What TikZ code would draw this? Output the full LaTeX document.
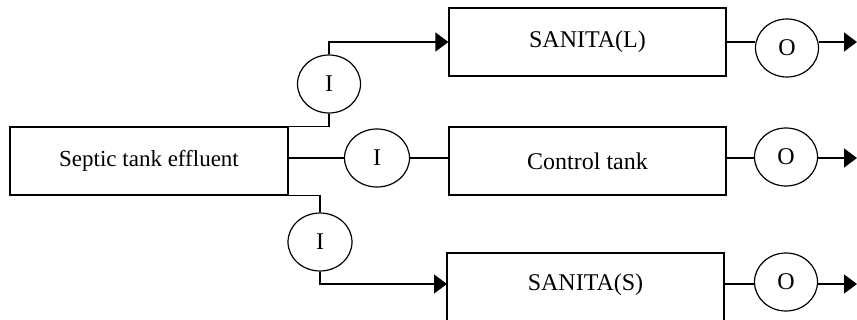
\documentclass[tikz,border=0pt]{standalone}
\usepackage{fontspec}
\setmainfont{Liberation Serif}
\usetikzlibrary{shapes.geometric,arrows.meta}
\begin{document}
\begin{tikzpicture}[x=1pt,y=-1pt,
  every node/.style={font=\fontsize{24}{28}\selectfont},
  tank/.style={draw,rectangle,line width=1.2pt,inner sep=0pt},
  meter/.style={draw,ellipse,line width=1.2pt,inner sep=0pt,minimum width=63pt,minimum height=58pt},
  pipe/.style={line width=1.2pt},
  flow/.style={line width=1.2pt,-{Triangle[length=13pt,width=19pt]}}]
\useasboundingbox (0,0) rectangle (857,320);
% boxes
\node[tank,minimum width=278pt,minimum height=68pt,font=\fontsize{23}{27}\selectfont] (sep) at (149,161) {Septic tank effluent};
\node[tank,minimum width=277pt,minimum height=68pt] (SL) at (587.5,42) {SANITA(L)};
\node[tank,minimum width=277pt,minimum height=68pt] (CT) at (587.5,161) {Control tank};
\node[tank,minimum width=277pt,minimum height=70pt] (SS) at (585.5,288) {};
\node at (585.5,285) {SANITA(S)};
% inlet meters
\node[meter] (I1) at (329,84) {I};
\node[meter,minimum width=65pt] (I2) at (377,158) {I};
\node[meter,minimum width=64pt] (I3) at (320,242) {I};
% outlet meters
\node[meter] (O1) at (787,48) {O};
\node[meter] (O2) at (786,157) {O};
\node[meter] (O3) at (786,282) {O};
% end coordinates
\coordinate (e1) at (857,42);
\coordinate (e2) at (857,158);
\coordinate (e3) at (857,284);
\coordinate (ssin) at (447,284);
% connectors
\draw[pipe] (sep.north east) -| (I1.south);
\draw[flow] (I1.north) |- (SL.west);
\draw[pipe] (sep.east |- I2) -- (I2.west);
\draw[pipe] (I2.east) -- (CT.west |- I2);
\draw[pipe] (sep.south east) -| (I3.north);
\draw[flow] (I3.south) |- (ssin);
\draw[pipe] (SL.east) -- (O1.west |- SL.east);
\draw[flow] (O1.east |- SL.east) -- (e1);
\draw[pipe] (CT.east |- e2) -- (O2.west |- e2);
\draw[flow] (O2.east |- e2) -- (e2);
\draw[pipe] (SS.east |- e3) -- (O3.west |- e3);
\draw[flow] (O3.east |- e3) -- (e3);
\end{tikzpicture}
\end{document}
